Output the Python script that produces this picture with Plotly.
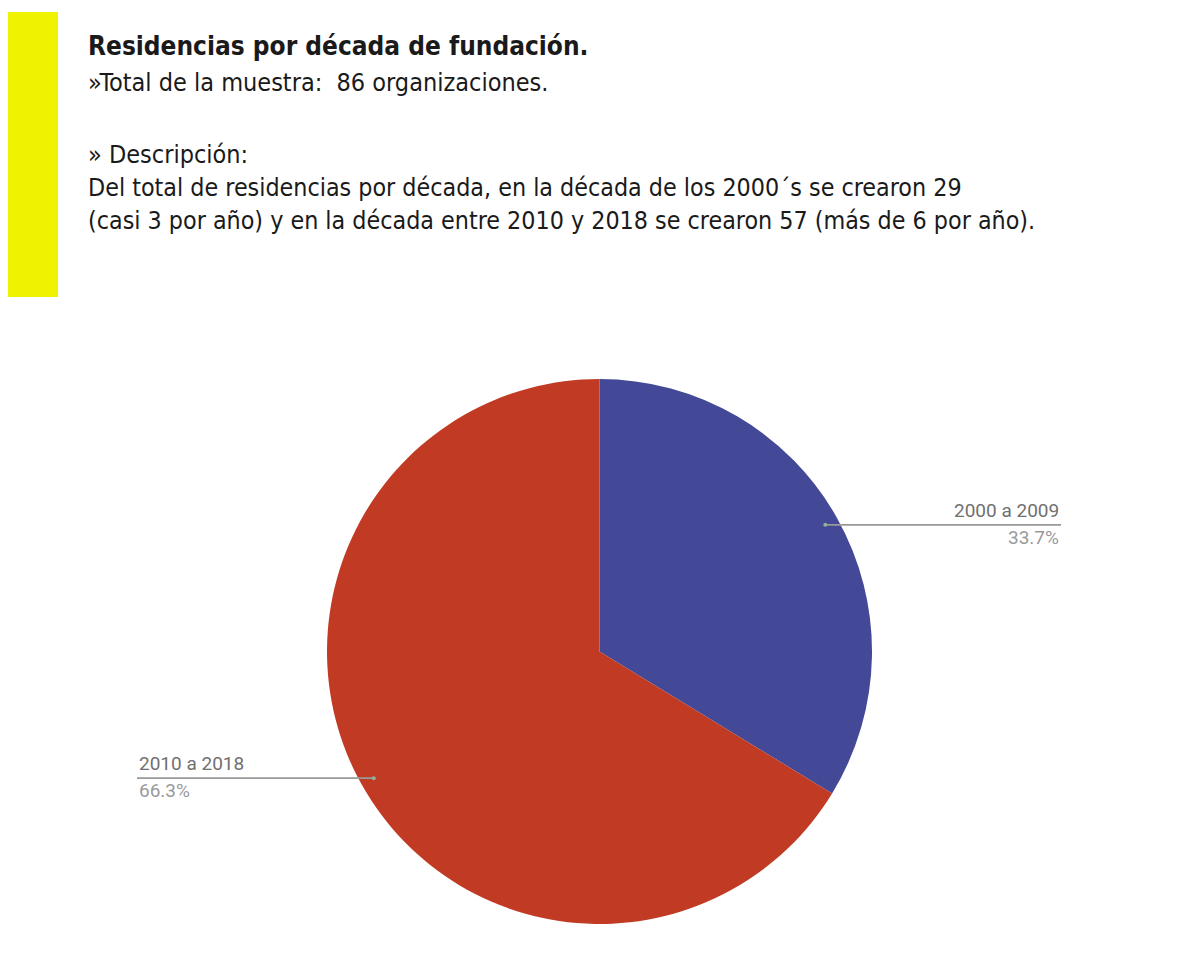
import math
import plotly.graph_objects as go

# ---- data ----
categories = ["2000 a 2009", "2010 a 2018"]
counts = [29, 57]
colors = ["#434996", "#C13B24"]

title = "Residencias por década de fundación."
subtitle = "»Total de la muestra:  86 organizaciones."
desc_head = "» Descripción:"
desc_lines = [
    "Del total de residencias por década, en la década de los 2000´s se crearon 29",
    "(casi 3 por año) y en la década entre 2010 y 2018 se crearon 57 (más de 6 por año).",
]

W, H = 1204, 958
OFF = 8  # page body margin
def px(x): return (x - OFF) / W
def py(y): return 1 - (y - OFF) / H

# pie geometry (pixels in the screenshot)
cx, cy, r = 599.5, 651.5, 272.5

fig = go.Figure()
fig.add_trace(go.Pie(
    labels=categories, values=counts,
    marker=dict(colors=colors, line=dict(width=0)),
    sort=False, direction="clockwise", rotation=0,
    textinfo="none", hoverinfo="label+percent",
    domain=dict(x=[px(cx - r), px(cx + r)], y=[py(cy + r), py(cy - r)]),
    showlegend=False,
))

shapes = []
annotations = []

# yellow bar
shapes.append(dict(type="rect", xref="paper", yref="paper",
                   x0=px(5), x1=px(58), y0=py(297), y1=py(12),
                   fillcolor="#EFF200", line=dict(width=0), layer="below"))

font_head = "Liberation Sans Narrow, DejaVu Sans Condensed, Arial Narrow, sans-serif"
annotations.append(dict(text="<b>" + title + "</b>", xref="paper", yref="paper",
                        x=px(86), y=py(46), xanchor="left", yanchor="middle", showarrow=False,
                        font=dict(family=font_head, size=26, color="#1a1a1a")))
annotations.append(dict(text=subtitle, xref="paper", yref="paper",
                        x=px(86), y=py(82), xanchor="left", yanchor="middle", showarrow=False,
                        font=dict(family=font_head, size=25, color="#1a1a1a")))
annotations.append(dict(text=desc_head, xref="paper", yref="paper",
                        x=px(86), y=py(154), xanchor="left", yanchor="middle", showarrow=False,
                        font=dict(family=font_head, size=25, color="#1a1a1a")))
for i, line in enumerate(desc_lines):
    annotations.append(dict(text=line, xref="paper", yref="paper",
                            x=px(86), y=py(187 + 33 * i), xanchor="left", yanchor="middle",
                            showarrow=False,
                            font=dict(family=font_head, size=24.8, color="#1a1a1a")))

# leader lines and outside labels computed from slice angles
total = sum(counts)
start = 0.0
label_font = "Roboto, Noto Sans, sans-serif"
for cat, val in zip(categories, counts):
    frac = val / total
    mid = (start + frac / 2) * 2 * math.pi
    start += frac
    dx, dy = math.sin(mid), -math.cos(mid)
    x0 = cx + 0.95 * r * dx
    y0 = cy + 0.95 * r * dy
    if dx >= 0:
        xend, anchor = 1061, "right"
    else:
        xend, anchor = 137, "left"
    shapes.append(dict(type="line", xref="paper", yref="paper",
                       x0=px(x0), y0=py(y0), x1=px(xend), y1=py(y0),
                       line=dict(color="#999999", width=1.8)))
    shapes.append(dict(type="circle", xref="paper", yref="paper",
                       x0=px(x0 - 2), x1=px(x0 + 2), y0=py(y0 + 2), y1=py(y0 - 2),
                       fillcolor="#8fb09a", line=dict(width=0)))
    annotations.append(dict(text=cat, xref="paper", yref="paper",
                            x=px(xend), y=py(y0 - 1), xanchor=anchor, yanchor="bottom",
                            showarrow=False, font=dict(family=label_font, size=19, color="#707070")))
    annotations.append(dict(text=f"{frac * 100:.1f}%", xref="paper", yref="paper",
                            x=px(xend), y=py(y0 - 1), xanchor=anchor, yanchor="top",
                            showarrow=False, font=dict(family=label_font, size=19, color="#9a9a9a")))

fig.update_layout(
    width=W, height=H,
    margin=dict(l=0, r=0, t=0, b=0),
    paper_bgcolor="white", plot_bgcolor="white",
    shapes=shapes, annotations=annotations,
)

fig.write_html("out.html")
